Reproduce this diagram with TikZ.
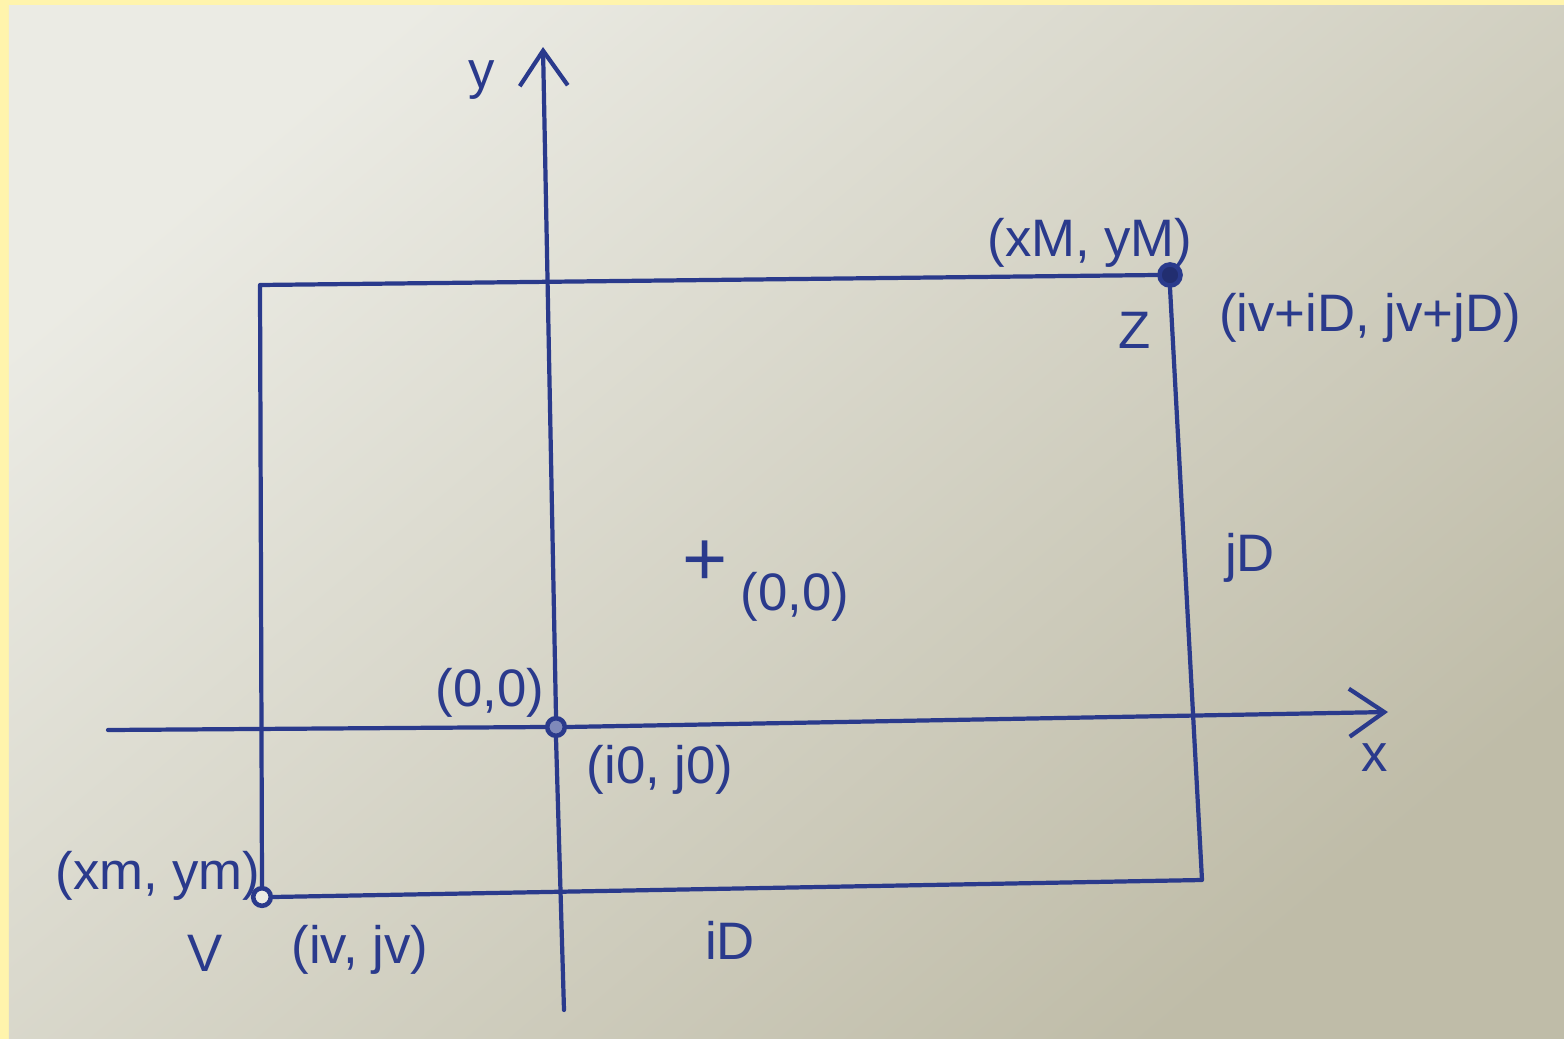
\documentclass[tikz,border=0pt]{standalone}
\usepackage{fontspec}
\setmainfont{Liberation Sans}
\usepackage{tikz}
\usetikzlibrary{arrows.meta,positioning}
\usepackage{xcolor}
\definecolor{ink}{HTML}{2A3A8C}
\definecolor{frame}{HTML}{FFF4AC}
\definecolor{paperlight}{HTML}{EBEBE4}
\definecolor{papermid}{HTML}{DEDCCE}
\definecolor{paperdark}{HTML}{BFBCA8}

\tikzset{
  pen/.style={ink, line width=1.2pt, line cap=round, line join=round},
  axis/.style={pen, -{Straight Barb[length=3.5mm,width=4.8mm,line width=1.2pt]}},
  hand/.style={ink, font=\fontsize{15}{18}\selectfont, inner sep=1pt},
  pt/.style={circle, draw=ink, line width=1.3pt, minimum size=6pt, inner sep=0pt},
}

\begin{document}
\begin{tikzpicture}[x=1cm,y=-1cm]
  % paper and frame
  \fill[frame] (0,0) rectangle (15.64,10.39);
  \shade[top color=paperlight, middle color=papermid, bottom color=paperdark, shading angle=40]
    (0.09,0.06) rectangle (15.64,10.39);
  \useasboundingbox (0,0) rectangle (15.64,10.39);

  % corner points
  \node[pt, fill=ink!80!black] (Z) at (11.70,2.75) {};
  \node[pt, fill=paperlight, minimum size=5pt] (V) at (2.62,8.97) {};
  \node[pt, fill=ink!60, minimum size=5pt] (O) at (5.56,7.27) {};
  \coordinate (tl) at (2.60,2.85);
  \coordinate (br) at (12.02,8.80);

  % rectangle
  \draw[pen] (V.north) -- (tl) -- (Z.west);
  \draw[pen] (Z.south) -- (br) -- (V.east);

  % axes
  \coordinate (xs) at (1.08,7.30);
  \coordinate (xe) at (13.88,7.12);
  \coordinate (ys) at (5.64,10.10);
  \coordinate (ye) at (5.43,0.47);
  \draw[pen] (xs) -- (O.west);
  \draw[axis] (O.east) -- (xe);
  \draw[pen] (ys) -- (O.south);
  \draw[axis] (O.north) -- (ye);

  % labels
  \node[hand] (ylab) at (4.82,0.80) {y};
  \node[hand] (xlab) at (13.75,7.58) {x};
  \node[hand] (Zmax) at (10.90,2.43) {(xM, yM)};
  \node[hand] (Zname) at (11.35,3.30) {Z};
  \node[hand] (Zidx) at (13.70,3.18) {(iv+iD, jv+jD)};
  \node[hand] (jD) at (12.50,5.58) {jD};
  \node[hand, font=\fontsize{22}{24}\selectfont] (mid) at (7.05,5.63) {+};
  \node[hand] (midlab) at (7.95,5.97) {(0,0)};
  \node[hand] (Oxy) at (4.90,6.93) {(0,0)};
  \node[hand] (Oidx) at (6.60,7.70) {(i0, j0)};
  \node[hand] (Vmin) at (1.58,8.76) {(xm, ym)};
  \node[hand] (Vname) at (2.05,9.53) {V};
  \node[hand] (Vidx) at (3.60,9.50) {(iv, jv)};
  \node[hand] (iD) at (7.30,9.40) {iD};
\end{tikzpicture}
\end{document}
